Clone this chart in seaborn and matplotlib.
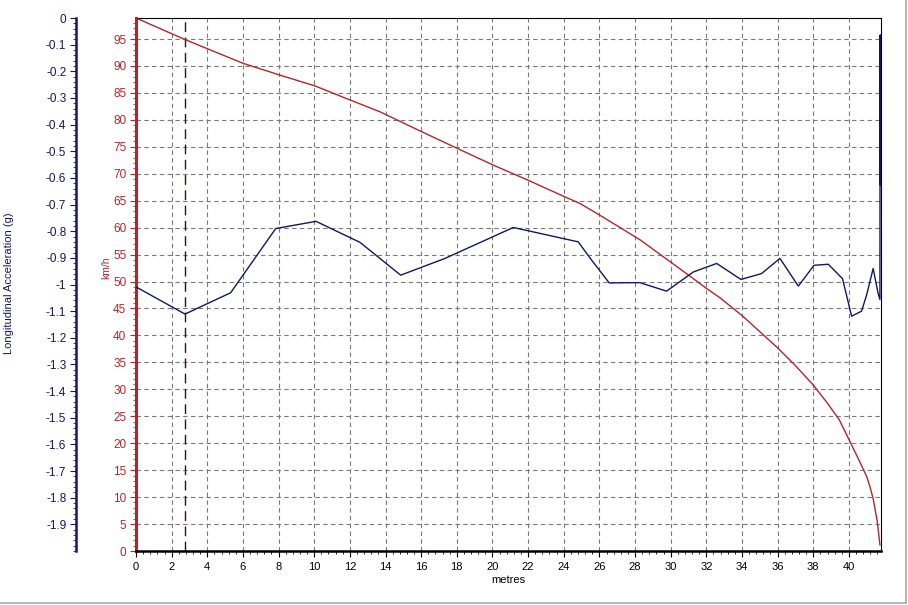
import numpy as np
import pandas as pd
import seaborn as sns
import matplotlib.pyplot as plt
from matplotlib.lines import Line2D
from matplotlib.ticker import MultipleLocator, FuncFormatter

# speed trace (km/h) against distance (metres)
speed_dist = [0, 2.75, 6.0, 8.08, 10.04, 12.0, 13.69, 16.03, 18.03, 20.05, 22.0,
              24.07, 24.9, 26.03, 28.3, 29.96, 31.0, 32.02, 32.76, 34.07, 36.03,
              37.0, 38.0, 38.8, 39.45, 40.06, 40.5, 41.0, 41.2, 41.36, 41.59, 41.74]
speed_kmh = [98.9, 94.9, 90.5, 88.3, 86.3, 83.7, 81.5, 77.8, 74.7, 71.6, 68.8,
             65.7, 64.5, 62.3, 57.7, 53.7, 51.2, 48.7, 47.0, 43.5, 37.6,
             34.4, 30.8, 27.4, 24.4, 20.3, 17.3, 13.8, 11.7, 9.7, 5.5, 1.1]

# longitudinal acceleration (g) against distance (metres)
acc_dist = [0, 2.75, 5.31, 7.84, 10.1, 12.57, 14.85, 17.34, 21.17, 24.81, 25.57,
            26.55, 28.27, 29.77, 31.27, 32.58, 33.94, 35.1, 36.13, 37.16, 38.04,
            38.84, 39.64, 40.15, 40.71, 40.99, 41.36, 41.64, 41.74, 41.75, 41.77, 41.78]
acc_g = [-1.009, -1.111, -1.031, -0.790, -0.763, -0.842, -0.965, -0.902, -0.786, -0.840, -0.909,
         -0.994, -0.993, -1.025, -0.953, -0.921, -0.981, -0.959, -0.902, -1.006, -0.928,
         -0.924, -0.978, -1.119, -1.100, -1.040, -0.940, -1.034, -1.056, -0.064, -0.627, -0.064]

cursor_x = 2.75

RED = "#b3262a"
NAVY = "#151565"

sns.set_style("white")
plt.rcParams["font.family"] = ["Liberation Sans", "DejaVu Sans"]
plt.rcParams["font.size"] = 8

speed_df = pd.DataFrame({"metres": speed_dist, "kmh": speed_kmh})
acc_df = pd.DataFrame({"metres": acc_dist, "g": acc_g})

W, H = 908, 605
fig = plt.figure(figsize=(W / 100, H / 100), dpi=100)
ax = fig.add_axes([136 / W, 1 - 551 / H, (881 - 136) / W, (551 - 18) / H])
ax2 = ax.twinx()

# grid + cursor
ax.set_xlim(0, 41.8)
ax.set_ylim(0, 98.9)
ax.xaxis.set_major_locator(MultipleLocator(2))
ax.xaxis.set_minor_locator(MultipleLocator(0.4))
ax.yaxis.set_major_locator(MultipleLocator(5))
ax.yaxis.set_minor_locator(MultipleLocator(1))
ax.grid(True, which="major", color="#7a7a7a", linestyle=(0, (4, 3)), linewidth=0.8)
ax.axvline(cursor_x, color="#4a0808", linestyle=(0, (7, 4)), linewidth=1.0, zorder=1)

sns.lineplot(data=speed_df, x="metres", y="kmh", ax=ax, color=RED, linewidth=1.0,
             sort=False, estimator=None, zorder=3)
sns.lineplot(data=acc_df, x="metres", y="g", ax=ax2, color=NAVY, linewidth=1.0,
             sort=False, estimator=None, zorder=3)

# main axes styling
for side in ["top", "right"]:
    ax.spines[side].set_color("black")
    ax.spines[side].set_linewidth(0.8)
ax.spines["bottom"].set_color("black")
ax.spines["bottom"].set_linewidth(1.8)
ax.spines["left"].set_color(RED)
ax.spines["left"].set_linewidth(2.2)

ax.tick_params(axis="x", which="major", direction="out", length=4, width=0.8,
               colors="black", pad=4, labelsize=8, bottom=True)
ax.tick_params(axis="x", which="minor", direction="out", length=2, width=0.6,
               colors="black", bottom=True)
ax.tick_params(axis="y", which="major", direction="out", length=4, width=0.8,
               colors=RED, pad=3, labelsize=8.5, left=True)
ax.tick_params(axis="y", which="minor", direction="out", length=2, width=0.6,
               colors=RED, left=True)
ax.yaxis.set_major_formatter(FuncFormatter(lambda v, p: "" if v > 95.5 else f"{v:g}"))
ax.xaxis.set_major_formatter(FuncFormatter(lambda v, p: f"{v:g}"))

ax.set_xlabel("metres", fontsize=8, color="black", labelpad=2)
ax.set_ylabel("km/h", fontsize=7.5, color=RED, va="center", ha="center")
ax.yaxis.set_label_coords((106 - 136) / (881 - 136), (551 - 268) / (551 - 18))

# acceleration axis on the far left
ax2.set_ylim(-2.0, 0)
ax2.yaxis.set_ticks_position("left")
ax2.yaxis.set_label_position("left")
ax2.spines["left"].set_position(("axes", -(136 - 76) / (881 - 136)))
ax2.spines["left"].set_color(NAVY)
ax2.spines["left"].set_linewidth(1.8)
for side in ["top", "right", "bottom"]:
    ax2.spines[side].set_visible(False)
ax2.set_yticks(np.round(np.arange(-1.9, 0.01, 0.1), 1))
ax2.yaxis.set_minor_locator(MultipleLocator(0.02))
ax2.yaxis.set_major_formatter(FuncFormatter(lambda v, p: f"{v:g}" if abs(v) > 1e-9 else "0"))
ax2.tick_params(axis="y", which="major", direction="out", length=4, width=0.8,
                colors=NAVY, pad=3, labelsize=8.5, left=True, right=False)
ax2.tick_params(axis="y", which="minor", direction="out", length=2, width=0.6,
                colors=NAVY, left=True, right=False)
ax2.set_xlabel("")
ax2.set_ylabel("Longitudinal Acceleration (g)", fontsize=8, color=NAVY, va="center")
ax2.yaxis.set_label_coords((9 - 136) / (881 - 136), (551 - 283) / (551 - 18))

# window frame lines (bottom and right)
fig.add_artist(Line2D([0, 906 / W], [1 - 603 / H, 1 - 603 / H], color="#a8a8a8", linewidth=1.2))
fig.add_artist(Line2D([906 / W, 906 / W], [1 - 603 / H, 1], color="#a8a8a8", linewidth=1.2))

fig.savefig("out.png", dpi=100)
plt.close()
